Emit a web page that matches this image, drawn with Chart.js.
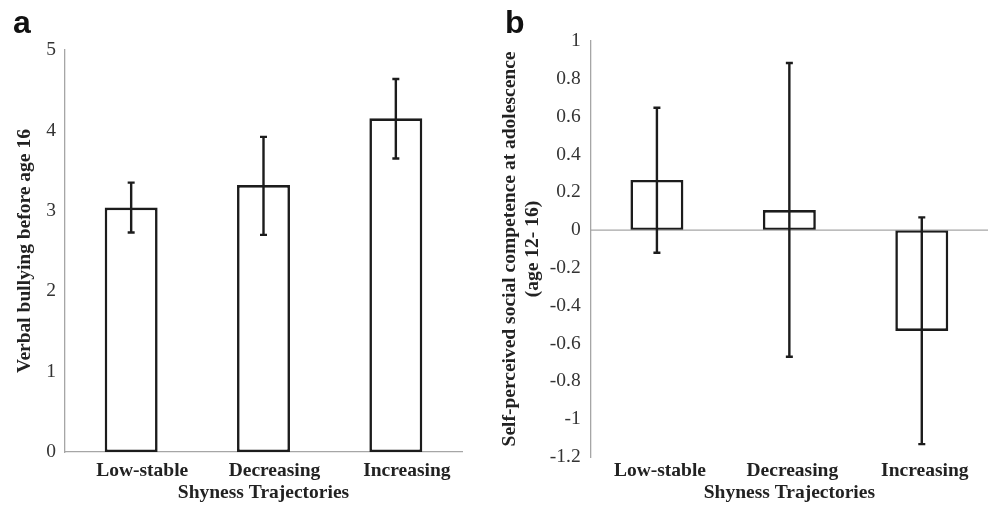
<!DOCTYPE html>
<html>
<head>
<meta charset="utf-8">
<script src="https://cdn.jsdelivr.net/npm/chart.js@4"></script>
<style>
  html, body { margin: 0; padding: 0; background: #fff; }
  body { width: 988px; height: 505px; position: relative; overflow: hidden; }
  .panel { position: absolute; top: 0; height: 505px; }
  #wrapA { left: 0; width: 490px; }
  #wrapB { left: 490px; width: 498px; }
  .letter { position: absolute; font-family: 'Liberation Sans', Arial, sans-serif; font-weight: bold;
            font-size: 32px; line-height: 32px; color: #111; }
</style>
</head>
<body>
<div class="panel" id="wrapA"><canvas id="chartA" width="490" height="505"></canvas></div>
<div class="panel" id="wrapB"><canvas id="chartB" width="498" height="505"></canvas></div>
<div class="letter" style="left:13px; top:6px;">a</div>
<div class="letter" style="left:505px; top:6px;">b</div>
<script>
// ---- data ----
const categories = ['Low-stable', 'Decreasing', 'Increasing'];

const bullyMeans    = [3.04, 3.32, 4.15];
const bullyErrLow   = [2.73, 2.70, 3.65];
const bullyErrHigh  = [3.35, 3.92, 4.64];

const competenceMeans   = [0.265, 0.106, -0.533];
const competenceErrLow  = [-0.12, -0.67, -1.132];
const competenceErrHigh = [0.647, 0.884, 0.067];

const yTicksA = [0, 1, 2, 3, 4, 5];
const yTicksB = [1, 0.8, 0.6, 0.4, 0.2, 0, -0.2, -0.4, -0.6, -0.8, -1, -1.2];

const xTitle = 'Shyness Trajectories';
const yTitleA = 'Verbal bullying before age 16';
const yTitleB = ['Self-perceived social competence at adolescence', '(age 12- 16)'];

// ---- styling ----
const SERIF = "'Liberation Serif', 'Times New Roman', serif";
const AXIS_GREY = '#a6a6a6';
const INK = '#1c1c1c';

function errorBarPlugin(low, high, drawZero) {
  return {
    id: 'errbars',
    afterDatasetsDraw(chart) {
      const ctx = chart.ctx;
      const ys = chart.scales.y;
      const area = chart.chartArea;
      ctx.save();
      if (drawZero) {
        const y0 = ys.getPixelForValue(0);
        ctx.strokeStyle = AXIS_GREY;
        ctx.lineWidth = 1.3;
        ctx.beginPath();
        ctx.moveTo(area.left, y0);
        ctx.lineTo(area.right, y0);
        ctx.stroke();
      }
      const meta = chart.getDatasetMeta(0);
      ctx.strokeStyle = INK;
      ctx.lineWidth = 2.4;
      const cap = 3.5;
      meta.data.forEach((bar, i) => {
        const x = bar.x;
        const yH = ys.getPixelForValue(high[i]);
        const yL = ys.getPixelForValue(low[i]);
        ctx.beginPath();
        ctx.moveTo(x, yH); ctx.lineTo(x, yL);
        ctx.moveTo(x - cap, yH); ctx.lineTo(x + cap, yH);
        ctx.moveTo(x - cap, yL); ctx.lineTo(x + cap, yL);
        ctx.stroke();
      });
      ctx.restore();
    }
  };
}

function makeChart(id, values, low, high, ticks, yTitle, cfg) {
  return new Chart(document.getElementById(id), {
    type: 'bar',
    data: {
      labels: categories,
      datasets: [{
        data: values,
        backgroundColor: '#ffffff',
        borderColor: INK,
        borderWidth: 2.6,
        borderSkipped: false,
        barPercentage: 0.4,
        categoryPercentage: 1.0
      }]
    },
    options: {
      responsive: false,
      animation: false,
      events: [],
      layout: { padding: cfg.padding },
      plugins: { legend: { display: false }, tooltip: { enabled: false } },
      scales: {
        x: {
          grid: { display: false, drawTicks: false },
          border: { display: cfg.xBorder, color: AXIS_GREY, width: 1.3 },
          ticks: { color: '#222', padding: cfg.xTickPad, labelOffset: cfg.labelOffset,
                   font: { family: SERIF, size: 19.5, weight: 'bold' } },
          title: { display: true, text: xTitle, color: '#222', padding: 0,
                   font: { family: SERIF, size: 19.5, weight: 'bold' } },
          afterFit(scale) { scale.height = cfg.xHeight; }
        },
        y: {
          min: Math.min(...ticks),
          max: Math.max(...ticks),
          grid: { display: false, drawTicks: false },
          border: { display: true, color: AXIS_GREY, width: 1.3 },
          afterBuildTicks(scale) { scale.ticks = ticks.map(v => ({ value: v })); },
          ticks: {
            color: '#333', padding: cfg.yTickPad,
            font: { family: SERIF, size: 19.5 },
            callback: (v) => String(v)
          },
          title: { display: true, text: yTitle, color: '#222', padding: 0,
                   font: { family: SERIF, size: 19.5, weight: 'bold' } },
          afterFit(scale) { scale.width = cfg.yWidth; }
        }
      }
    },
    plugins: [errorBarPlugin(low, high, cfg.zeroLine)]
  });
}

makeChart('chartA', bullyMeans, bullyErrLow, bullyErrHigh, yTicksA, yTitleA, {
  padding: { left: 13, top: 50, right: 28, bottom: 0 },
  yWidth: 52, xHeight: 53, xTickPad: 7, yTickPad: 9, xBorder: true, zeroLine: false, labelOffset: 11
});

makeChart('chartB', competenceMeans, competenceErrLow, competenceErrHigh, yTicksB, yTitleB, {
  padding: { left: 8.3, top: 41, right: 0, bottom: 0 },
  yWidth: 92.4, xHeight: 48, xTickPad: 2.3, yTickPad: 10, xBorder: false, zeroLine: true, labelOffset: 3
});
</script>
</body>
</html>
